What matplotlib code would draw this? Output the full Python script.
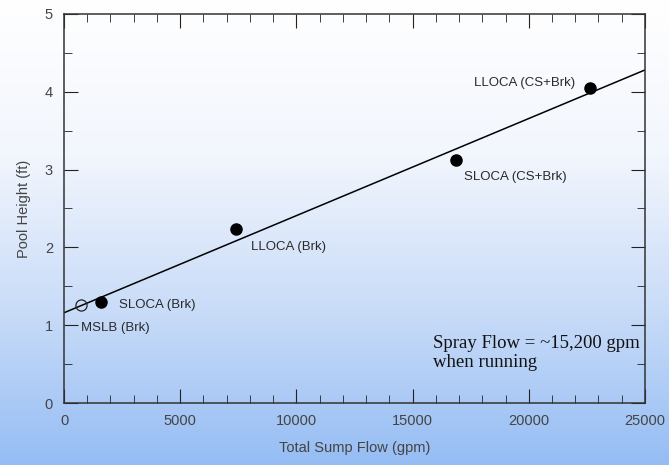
import numpy as np
import matplotlib
matplotlib.use("Agg")
import matplotlib.pyplot as plt
from matplotlib.colors import LinearSegmentedColormap

plt.rcParams["font.family"] = ["Liberation Sans", "DejaVu Sans"]

# data
cases = ["MSLB (Brk)", "SLOCA (Brk)", "LLOCA (Brk)", "SLOCA (CS+Brk)", "LLOCA (CS+Brk)"]
flow = [730, 1600, 7400, 16850, 22650]
height = [1.26, 1.30, 2.24, 3.12, 4.05]
open_marker = [True, False, False, False, False]
fit_x = [0, 25000]
fit_y = [1.16, 4.28]

fig = plt.figure(figsize=(6.69, 4.65), dpi=100)

# gradient background
bg = fig.add_axes([0, 0, 1, 1], zorder=-10)
cmap = LinearSegmentedColormap.from_list("bg", ["#ffffff", "#f2f6fd", "#c9dcf8", "#95bdf4"], N=256)
grad = np.linspace(0, 1, 256).reshape(-1, 1)
bg.imshow(grad, aspect="auto", cmap=cmap, extent=[0, 1, 0, 1], origin="upper")
bg.axis("off")

ax = fig.add_axes([0.0957, 0.1333, 0.8683, 0.8367])
ax.patch.set_alpha(0)

ax.plot(fit_x, fit_y, color="black", lw=1.1, zorder=2)
for x, y, o in zip(flow, height, open_marker):
    if o:
        ax.plot(x, y, "o", ms=8, mfc="none", mec="#222222", mew=0.9, zorder=3)
    else:
        ax.plot(x, y, "o", ms=8, color="black", zorder=3)

lab = dict(fontsize=9.5, color="#2a2a2a")
ax.text(flow[0], height[0] - 0.29, cases[0], ha="left", va="center", **lab)
ax.text(flow[1] + 750, height[1] - 0.04, cases[1], ha="left", va="center", **lab)
ax.text(flow[2] + 650, height[2] - 0.24, cases[2], ha="left", va="center", **lab)
ax.text(flow[3] + 350, height[3] - 0.21, cases[3], ha="left", va="center", **lab)
ax.text(flow[4] - 650, height[4] + 0.06, cases[4], ha="right", va="center", **lab)

ax.text(15900, 0.64, "Spray Flow = ~15,200 gpm\nwhen running", family="Liberation Serif",
        fontsize=13.5, color="#111111", ha="left", va="center", linespacing=1.15)

ax.set_xlim(0, 25000)
ax.set_ylim(0, 5)
ax.set_xticks(np.arange(0, 25001, 5000))
ax.set_xticks(np.arange(0, 25001, 1000), minor=True)
ax.set_yticks(np.arange(0, 6, 1))
ax.set_yticks(np.arange(0, 5.01, 0.5), minor=True)
ax.tick_params(which="both", direction="in", top=True, right=True, colors="#222222",
               labelcolor="#444444", labelsize=10.5, pad=8)
ax.tick_params(which="major", length=10)
ax.tick_params(which="minor", length=6)
for s in ax.spines.values():
    s.set_color("#333333")
    s.set_linewidth(1.1)

ax.set_xlabel("Total Sump Flow (gpm)", fontsize=10.5, color="#444444", labelpad=9)
ax.set_ylabel("Pool Height (ft)", fontsize=10.5, color="#444444", labelpad=10)

fig.savefig("out.png", dpi=100)
